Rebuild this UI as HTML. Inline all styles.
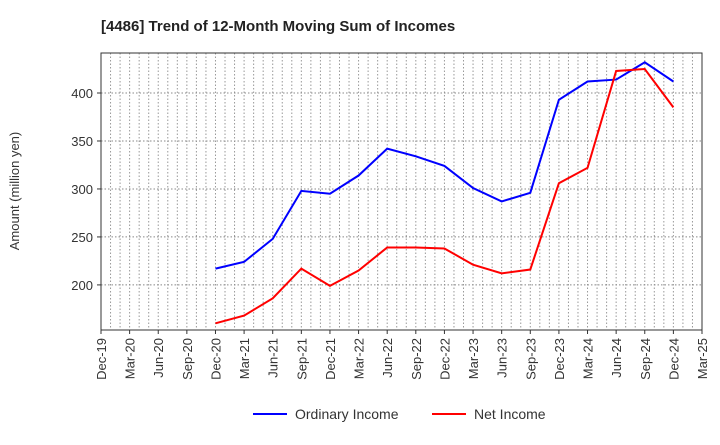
<!DOCTYPE html>
<html><head><meta charset="utf-8"><style>
body{margin:0;background:#fff;font-family:"Liberation Sans",sans-serif}
</style></head><body>
<svg id="chart" width="720" height="440" xmlns="http://www.w3.org/2000/svg" font-family="Liberation Sans, sans-serif">
<text x="101" y="31" font-size="15" font-weight="bold" fill="#222">[4486]  Trend of 12-Month Moving Sum of Incomes</text>
<text transform="translate(19,191) rotate(-90)" text-anchor="middle" font-size="13" fill="#333">Amount (million yen)</text>
<g id="grid"></g><g id="axes"></g><g id="series"></g>
<g>
<line x1="253" y1="414" x2="287" y2="414" stroke="#0000ff" stroke-width="2"/>
<text x="295" y="419" font-size="14" fill="#333">Ordinary Income</text>
<line x1="432" y1="414" x2="466" y2="414" stroke="#ff0000" stroke-width="2"/>
<text x="474" y="419" font-size="14" fill="#333">Net Income</text>
</g>
</svg>
<script>
const quarterLabels=["Dec-19","Mar-20","Jun-20","Sep-20","Dec-20","Mar-21","Jun-21","Sep-21","Dec-21","Mar-22","Jun-22","Sep-22","Dec-22","Mar-23","Jun-23","Sep-23","Dec-23","Mar-24","Jun-24","Sep-24","Dec-24","Mar-25"];
const yTicks=[200,250,300,350,400];
const seriesStart=4;
const ordinaryIncome=[217,224,248,298,295,314,342,334,324,301,287,296,393,412,414,432,412];
const netIncome=[160,168,186,217,199,215,239,239,238,221,212,216,306,322,423,425,385];
const L=101,R=702,T=53,B=330,yMin=153,yMax=441.7;
const X=i=>L+i*(R-L)/(quarterLabels.length-1);
const Y=v=>B-(v-yMin)/(yMax-yMin)*(B-T);
const ns="http://www.w3.org/2000/svg";
function mk(p,t,a){const e=document.createElementNS(ns,t);for(const k in a)e.setAttribute(k,a[k]);p.appendChild(e);return e;}
const grid=document.getElementById('grid'),axes=document.getElementById('axes'),ser=document.getElementById('series');
const nm=(quarterLabels.length-1)*3;
for(let m=1;m<nm;m++){const x=L+m*(R-L)/nm;const g=mk(grid,'line',{x1:x,x2:x,y1:T,y2:B,stroke:'#999','stroke-dasharray':'1.5,2','stroke-width':1});

}
yTicks.forEach(v=>{const y=Y(v);const g=mk(grid,'line',{x1:L,x2:R,y1:y,y2:y,stroke:'#888','stroke-dasharray':'1.5,2','stroke-width':1});


mk(axes,'line',{x1:L-4,x2:L,y1:y,y2:y,stroke:'#333'});
const t=mk(axes,'text',{x:L-8,y:y+5,'text-anchor':'end','font-size':13,fill:'#333'});t.textContent=v;

});
const fr=mk(axes,'rect',{x:L,y:T,width:R-L,height:B-T,fill:'none',stroke:'#333','stroke-width':1});


quarterLabels.forEach((s,i)=>{const x=X(i);mk(axes,'line',{x1:x,x2:x,y1:B,y2:B+4,stroke:'#333'});
const t=mk(axes,'text',{transform:`translate(${x+5},${B+8}) rotate(-90)`,'text-anchor':'end','font-size':13,fill:'#333'});t.textContent=s;

});
function line(d,c,n){const p=mk(ser,'polyline',{points:d.map((v,i)=>X(i+seriesStart)+','+Y(v)).join(' '),fill:'none',stroke:c,'stroke-width':2});

}
line(ordinaryIncome,'#0000ff','ordinary-income-line');
line(netIncome,'#ff0000','net-income-line');
</script>
</body></html>
